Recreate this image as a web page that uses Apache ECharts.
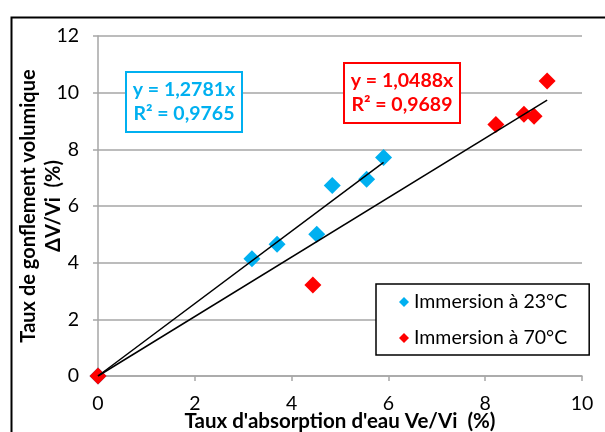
<!DOCTYPE html>
<html><head><meta charset="utf-8">
<script src="https://cdn.jsdelivr.net/npm/echarts@6/dist/echarts.min.js"></script>
<style>html,body{margin:0;padding:0;background:#fff}#c{width:605px;height:432px}</style>
</head><body><div id="c"></div>
<script>
const seriesNames = ['Immersion à 23°C', 'Immersion à 70°C'];
const blueX = [0, 3.18, 3.70, 4.52, 4.84, 5.55, 5.90];
const blueY = [0, 4.14, 4.65, 5.00, 6.72, 6.94, 7.71];
const redX = [0, 4.44, 8.22, 8.80, 9.01, 9.28];
const redY = [0, 3.21, 8.88, 9.24, 9.17, 10.41];
const slopes = [1.2781, 1.0488];
const r2 = ['0,9765', '0,9689'];
const trendXEnd = [5.90, 9.28];
const xTicks = [0, 2, 4, 6, 8, 10];
const yTicks = [0, 2, 4, 6, 8, 10, 12];
const colors = ['#00B0F0', '#FF0000'];

const FONT = 'Lato';
const chart = echarts.init(document.getElementById('c'));
const zip = (a, b) => a.map((v, i) => [v, b[i]]);
const trend = (k, xe) => [[0, 0], [xe, k * xe]];
const fmtSlope = k => k.toFixed(4).replace('.', ',');

chart.setOption({
  animation: false,
  textStyle: { fontFamily: FONT },
  grid: { left: 98, right: 23, top: 36, bottom: 56, containLabel: false, outerBoundsMode: 'none' },
  xAxis: {
    type: 'value', min: xTicks[0], max: xTicks[xTicks.length - 1], interval: 2,
    name: "Taux d'absorption d'eau Ve/Vi  (%)", nameLocation: 'middle', nameGap: 35,
    nameMoveOverlap: false,
    nameTextStyle: { fontFamily: FONT, fontWeight: 'bold', fontSize: 20.5, color: '#000' },
    axisLine: { show: true, lineStyle: { color: '#a6a6a6', width: 1.5 } },
    axisTick: { show: true, length: 5, lineStyle: { color: '#a6a6a6', width: 1.5 } },
    axisLabel: { fontFamily: FONT, fontSize: 19.5, color: '#000', margin: 18 },
    splitLine: { show: false }
  },
  yAxis: {
    type: 'value', min: yTicks[0], max: yTicks[yTicks.length - 1], interval: 2,
    name: 'Taux de gonflement volumique\nΔV/Vi  (%)', nameLocation: 'middle', nameGap: 32,
    nameRotate: 90, nameMoveOverlap: false,
    nameTextStyle: { fontFamily: FONT, fontWeight: 'bold', fontSize: 20, color: '#000', lineHeight: 25 },
    axisLine: { show: true, lineStyle: { color: '#a6a6a6', width: 1.5 } },
    axisTick: { show: true, length: 5, lineStyle: { color: '#a6a6a6', width: 1.5 } },
    axisLabel: { fontFamily: FONT, fontSize: 19.5, color: '#000', margin: 19 },
    splitLine: { show: true, lineStyle: { color: '#a6a6a6', width: 1.5 } }
  },
  legend: {
    data: seriesNames.map((n, i) => ({ name: n, icon: 'diamond', itemStyle: { color: colors[i] } })),
    orient: 'vertical', left: 376, top: 284,
    itemWidth: 10, itemHeight: 10, itemGap: 16,
    padding: [8, 22, 7, 23],
    borderColor: '#000', borderWidth: 1.5, backgroundColor: '#fff',
    textStyle: { fontFamily: FONT, fontSize: 19.5, color: '#000', lineHeight: 20 }
  },
  series: [
    { name: seriesNames[0], type: 'scatter', symbol: 'diamond', symbolSize: 17,
      itemStyle: { color: colors[0], opacity: 1 }, data: zip(blueX, blueY), z: 2 },
    { name: seriesNames[1], type: 'scatter', symbol: 'diamond', symbolSize: 17,
      itemStyle: { color: colors[1], opacity: 1 }, data: zip(redX, redY), z: 3 },
    { name: 't1', type: 'line', data: trend(slopes[0], trendXEnd[0]), showSymbol: false, symbol: 'none',
      lineStyle: { color: '#000', width: 1.5 }, z: 4, silent: true },
    { name: 't2', type: 'line', data: trend(slopes[1], trendXEnd[1]), showSymbol: false, symbol: 'none',
      lineStyle: { color: '#000', width: 1.5 }, z: 4, silent: true }
  ],
  graphic: [
    { type: 'rect', left: 9, top: 15, shape: { width: 700, height: 500 },
      style: { fill: 'none', stroke: '#000', lineWidth: 2 }, z: 0 },
    { type: 'rect', shape: { x: 126, y: 72, width: 116, height: 60 },
      style: { fill: '#fff', stroke: colors[0], lineWidth: 2 }, z: 10 },
    { type: 'text', x: 184, y: 102, z: 11,
      style: { text: 'y = ' + fmtSlope(slopes[0]) + 'x\nR² = ' + r2[0], fill: colors[0],
        font: 'bold 19.5px ' + FONT, align: 'center', verticalAlign: 'middle', lineHeight: 24 } },
    { type: 'rect', shape: { x: 344, y: 63, width: 116, height: 60 },
      style: { fill: '#fff', stroke: colors[1], lineWidth: 2 }, z: 10 },
    { type: 'text', x: 402, y: 93, z: 11,
      style: { text: 'y = ' + fmtSlope(slopes[1]) + 'x\nR² = ' + r2[1], fill: colors[1],
        font: 'bold 19.5px ' + FONT, align: 'center', verticalAlign: 'middle', lineHeight: 24 } }
  ]
});
</script></body></html>
